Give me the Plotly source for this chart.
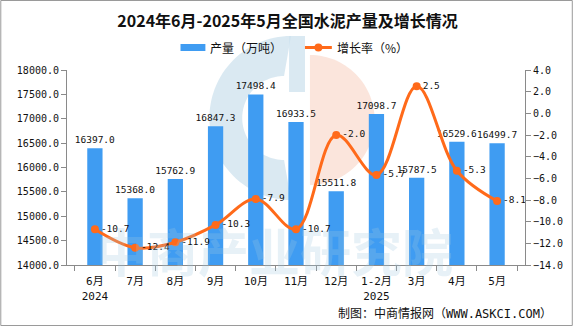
import math
import plotly.graph_objects as go

# ---- data ----
months = ["6月<br>2024", "7月", "8月", "9月", "10月", "11月", "12月",
          "1-2月<br>2025", "3月", "4月", "5月"]
output_wt = [16397.0, 15368.0, 15762.9, 16847.3, 17498.4, 16933.5,
             15511.8, 17098.7, 15787.5, 16529.6, 16499.7]
growth_pct = [-10.7, -12.4, -11.9, -10.3, -7.9, -10.7, -2.0, -5.7, 2.5, -5.3, -8.1]

# ---- styling ----
W, H = 575, 326
PL, PR, PT, PB = 67, 527, 70, 265          # plot area in pixels
BLUE = "#3F9CF2"
ORANGE = "#FF6A1A"
AXIS = "#8a8a8a"
NUM_FONT = "DejaVu Sans Mono, Noto Sans CJK SC"
CJK_FONT = "Noto Sans CJK SC"


def px(x):
    return (x - PL) / (PR - PL)


def py(y):
    return (PB - y) / (PB - PT)


def arc_pts(cx, cy, r, a0, a1, n=60):
    pts = []
    for i in range(n + 1):
        a = math.radians(a0 + (a1 - a0) * i / n)
        pts.append((cx + r * math.cos(a), cy - r * math.sin(a)))
    return pts


def path_of(pts):
    return "M " + " L ".join(f"{px(x):.4f},{py(y):.4f}" for x, y in pts) + " Z"


fig = go.Figure()

fig.add_trace(go.Bar(
    x=months, y=output_wt, name="产量（万吨）",
    marker=dict(color=BLUE, line=dict(width=0)),
    width=0.38,
    text=[f"{v:.1f}" for v in output_wt], textposition="outside",
    constraintext="none", textangle=0,
    textfont=dict(family=NUM_FONT, size=9.5, color="#111"),
    cliponaxis=False, showlegend=False,
))

fig.add_trace(go.Scatter(
    x=months, y=growth_pct, name="增长率（%）", yaxis="y2",
    mode="lines+markers+text",
    line=dict(color=ORANGE, width=3, shape="spline", smoothing=1.0),
    marker=dict(color=ORANGE, size=8),
    text=[f"{v:.1f}" for v in growth_pct], textposition="middle right",
    textfont=dict(family=NUM_FONT, size=9.5, color="#111"),
    cliponaxis=False, showlegend=False,
))

shapes = []
# faint logo watermark behind the plot
logo_blue = "rgba(205,225,238,0.75)"
logo_orange = "rgba(250,218,205,0.7)"
outer = arc_pts(292, 118, 82, 90, 270)
inner = arc_pts(285, 118, 42, 270, 90)
shapes.append(dict(type="path", xref="paper", yref="paper", layer="below",
                   path=path_of(outer + inner), fillcolor=logo_blue, line=dict(width=0)))
shapes.append(dict(type="path", xref="paper", yref="paper", layer="below",
                   path=path_of([(290, 36), (306, 36), (306, 92), (290, 92)]),
                   fillcolor=logo_blue, line=dict(width=0)))
half = arc_pts(311, 120, 65, 90, -90)
shapes.append(dict(type="path", xref="paper", yref="paper", layer="below",
                   path=path_of(half), fillcolor=logo_orange, line=dict(width=0)))

# legend swatches
shapes.append(dict(type="rect", xref="paper", yref="paper",
                   x0=px(181), x1=px(206), y0=py(44), y1=py(51),
                   fillcolor=BLUE, line=dict(width=0)))
shapes.append(dict(type="line", xref="paper", yref="paper",
                   x0=px(306), x1=px(333), y0=py(47.5), y1=py(47.5),
                   line=dict(color=ORANGE, width=3)))
shapes.append(dict(type="circle", xref="paper", yref="paper",
                   x0=px(315.5), x1=px(323.5), y0=py(43.5), y1=py(51.5),
                   fillcolor=ORANGE, line=dict(width=0)))
# outer frame
shapes.append(dict(type="rect", xref="paper", yref="paper",
                   x0=px(0.5), x1=px(574.5), y0=py(0.5), y1=py(325.5),
                   line=dict(color="#9a9a9a", width=1)))

annotations = [
    dict(text="<b>中商产业研究院</b>", xref="paper", yref="paper", x=px(275), y=py(250),
         xanchor="center", yanchor="middle", showarrow=False,
         font=dict(family=CJK_FONT, size=51, color="rgba(160,198,224,0.25)")),
    dict(text="产量（万吨）", xref="paper", yref="paper", x=px(209), y=py(47.5),
         xanchor="left", yanchor="middle", showarrow=False,
         font=dict(family=CJK_FONT, size=12, color="#111")),
    dict(text="增长率（%）", xref="paper", yref="paper", x=px(336), y=py(47.5),
         xanchor="left", yanchor="middle", showarrow=False,
         font=dict(family=CJK_FONT, size=12, color="#111")),
    dict(text="制图：中商情报网（WWW.ASKCI.COM）", xref="paper", yref="paper",
         x=px(556), y=py(313), xanchor="right", yanchor="middle", showarrow=False,
         font=dict(family=NUM_FONT, size=12, color="#111")),
]

fig.update_layout(
    width=W, height=H,
    margin=dict(l=PL, r=W - PR, t=PT, b=H - PB, pad=0),
    paper_bgcolor="white", plot_bgcolor="rgba(0,0,0,0)",
    title=dict(text="<b>2024年6月-2025年5月全国水泥产量及增长情况</b>",
               x=0.5, xanchor="center", y=1 - 21 / H, yanchor="middle",
               font=dict(family=CJK_FONT, size=16, color="#111")),
    bargap=0.6,
    shapes=shapes, annotations=annotations,
    xaxis=dict(
        type="category", showline=True, linecolor=AXIS, linewidth=1,
        ticks="outside", tickson="boundaries", ticklen=5, tickcolor=AXIS,
        ticklabelstandoff=6,
        showgrid=False, tickfont=dict(family=NUM_FONT, size=11, color="#111"),
        fixedrange=True,
    ),
    yaxis=dict(
        range=[14000, 18000], dtick=500, tickformat=".1f",
        showline=True, linecolor=AXIS, linewidth=1, ticks="outside",
        ticklen=5, tickcolor=AXIS, showgrid=False, zeroline=False,
        tickfont=dict(family=NUM_FONT, size=10, color="#111"),
    ),
    yaxis2=dict(
        range=[-14, 4], dtick=2, tickformat=".1f", overlaying="y", side="right",
        showline=True, linecolor=AXIS, linewidth=1, ticks="outside",
        ticklen=5, tickcolor=AXIS, showgrid=False, zeroline=False,
        tickfont=dict(family=NUM_FONT, size=10, color="#111"),
    ),
)

fig.write_html("out.html")
